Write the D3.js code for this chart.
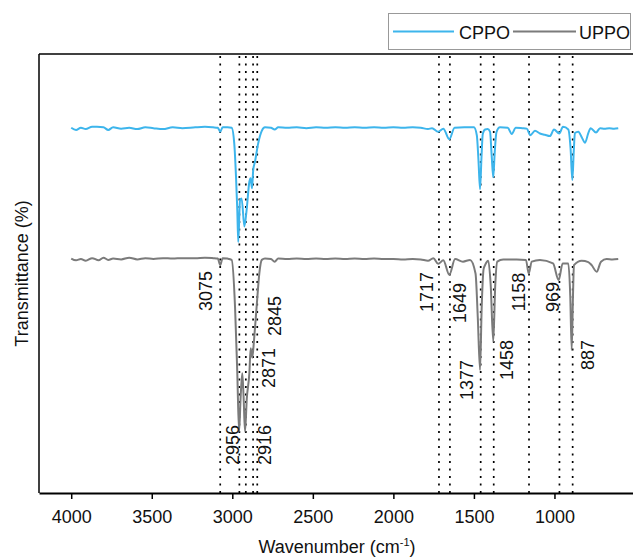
<!DOCTYPE html>
<html>
<head>
<meta charset="utf-8">
<script src="https://cdn.jsdelivr.net/npm/d3@7"></script>
<style>
  body { margin: 0; background: #fff; }
  svg { display: block; font-family: "Liberation Sans", Arial, sans-serif; }
</style>
</head>
<body>
<script>
// FTIR spectra, wavenumber (cm-1) vs transmittance (arbitrary %, stacked)

const cppo = [
  [4000, 83.2], [3970, 82.7], [3940, 83.2], [3910, 82.9], [3870, 83.4], [3840, 83.4], [3800, 83.3],
  [3770, 82.7], [3740, 83.3], [3690, 83.0], [3640, 83.2], [3590, 82.9], [3540, 83.3], [3490, 83.1],
  [3430, 82.9], [3370, 83.3], [3310, 83.1], [3230, 83.3], [3170, 83.4], [3120, 83.3], [3090, 83.2],
  [3075, 82.3], [3060, 83.3], [3030, 83.3], [3004, 83.2], [2988, 79.7], [2977, 72.1], [2969, 64.5],
  [2963, 57.2], [2952, 66.7], [2942, 67.1], [2925, 60.7], [2911, 64.5], [2894, 70.9], [2886, 71.7],
  [2878, 69.4], [2870, 73.6], [2859, 75.5], [2839, 79.7], [2817, 82.5], [2797, 83.3], [2760, 83.2],
  [2737, 82.8], [2715, 83.3], [2660, 83.2], [2600, 83.3], [2540, 83.1], [2480, 83.3], [2420, 83.2],
  [2360, 83.3], [2300, 83.2], [2240, 83.3], [2180, 83.2], [2120, 83.3], [2060, 83.2], [2000, 83.3],
  [1940, 83.2], [1880, 83.3], [1830, 83.2], [1785, 82.9], [1760, 83.1], [1722, 82.3], [1690, 83.0],
  [1653, 80.6], [1620, 83.2], [1560, 83.3], [1500, 83.3], [1482, 81.5], [1472, 76.0], [1462, 69.2],
  [1453, 76.5], [1445, 81.8], [1430, 82.8], [1415, 82.9], [1400, 82.3], [1390, 77.0], [1380, 71.9],
  [1371, 77.5], [1360, 82.2], [1338, 83.3], [1290, 83.2], [1265, 81.8], [1240, 83.2], [1200, 83.1],
  [1172, 83.0], [1150, 81.5], [1121, 82.5], [1090, 81.9], [1060, 81.6], [1028, 81.3], [1003, 82.8],
  [970, 81.9], [947, 83.4], [914, 82.8], [900, 78.5], [889, 71.3], [880, 78.0], [873, 82.0],
  [852, 82.3], [830, 81.0], [810, 79.8], [790, 82.0], [775, 83.1], [742, 82.1], [717, 83.1],
  [690, 83.0], [660, 83.1], [630, 83.0], [604, 83.1]
];

const uppo = [
  [4000, 53.4], [3970, 53.0], [3940, 53.3], [3910, 52.9], [3870, 53.5], [3830, 53.0], [3800, 53.6],
  [3770, 53.1], [3740, 53.4], [3690, 53.2], [3640, 53.6], [3590, 53.2], [3540, 53.5], [3490, 53.3],
  [3430, 53.5], [3370, 53.4], [3310, 53.5], [3230, 53.5], [3170, 53.6], [3120, 53.5], [3090, 53.4],
  [3075, 51.9], [3060, 53.5], [3030, 53.4], [3004, 53.1], [2983, 42.4], [2969, 27.3], [2958, 14.0],
  [2948, 22.0], [2938, 27.3], [2930, 22.0], [2921, 14.0], [2910, 21.5], [2894, 27.3], [2886, 33.0],
  [2876, 30.8], [2865, 34.9], [2849, 42.4], [2832, 50.1], [2817, 53.1], [2797, 53.4], [2760, 53.3],
  [2737, 52.7], [2715, 53.4], [2660, 53.3], [2600, 53.4], [2540, 53.3], [2480, 53.4], [2420, 53.3],
  [2360, 53.4], [2300, 53.3], [2240, 53.4], [2180, 53.3], [2120, 53.4], [2060, 53.3], [2000, 53.3],
  [1940, 53.2], [1880, 53.3], [1830, 53.2], [1785, 52.9], [1752, 53.5], [1722, 52.2], [1690, 53.0],
  [1653, 49.7], [1617, 53.3], [1568, 52.7], [1524, 53.1], [1490, 50.0], [1476, 40.0], [1462, 28.0],
  [1452, 42.0], [1440, 51.0], [1431, 51.9], [1411, 52.9], [1396, 47.5], [1380, 34.5], [1368, 47.0],
  [1355, 52.7], [1318, 53.2], [1234, 53.2], [1177, 53.1], [1160, 50.0], [1141, 52.7], [1090, 53.1],
  [1009, 52.3], [974, 48.5], [949, 52.3], [914, 52.3], [902, 45.0], [893, 32.6], [885, 45.0],
  [879, 51.9], [831, 52.9], [790, 52.6], [769, 51.9], [738, 50.4], [711, 52.7], [676, 53.3],
  [640, 53.2], [604, 53.3]
];

// marked bands (dotted lines)
const peaks = [3075, 2956, 2916, 2871, 2845, 1717, 1649, 1458, 1377, 1158, 969, 887];
// label text for each band, as printed on the figure
const peakLabels = ["3075", "2956", "2916", "2871", "2845", "1717", "1649", "1377", "1458", "1158", "969", "887"];

const xTicks = [4000, 3500, 3000, 2500, 2000, 1500, 1000];
const seriesNames = ["CPPO", "UPPO"];

// layout of the rotated labels: dx from the dotted line, center y in px
const labelLayout = [
  { dx: -15, cy: 291 }, { dx: -7, cy: 445 }, { dx: 19, cy: 445 }, { dx: 15, cy: 368 },
  { dx: 17, cy: 316 }, { dx: -12, cy: 292 }, { dx: 10, cy: 303 }, { dx: -14, cy: 380 },
  { dx: 13, cy: 360 }, { dx: -11, cy: 292 }, { dx: -7, cy: 297 }, { dx: 15, cy: 355 }
];

const width = 633;
const height = 558;
const colors = ["#3db5ec", "#7b7b7b"];

const plotLeft = 39, plotTop = 54, plotBottom = 493;

const svg = d3.select("body")
  .append("svg")
  .attr("width", width)
  .attr("height", height);

const x = d3.scaleLinear().domain([4200, 500]).range([plotLeft, 635]);
const y = d3.scaleLinear().domain([0, 100]).range([plotBottom, plotTop]);

// dotted reference lines
svg.append("g")
  .selectAll("line")
  .data(peaks)
  .enter()
  .append("line")
  .attr("x1", d => x(d))
  .attr("x2", d => x(d))
  .attr("y1", plotTop + 2)
  .attr("y2", plotBottom)
  .attr("stroke", "#000")
  .attr("stroke-width", 1.7)
  .attr("stroke-dasharray", "2,5.5");

// spectra
const line = d3.line()
  .x(d => x(d[0]))
  .y(d => y(d[1]))
  .curve(d3.curveMonotoneX);

[cppo, uppo].forEach((s, i) => {
  svg.append("path")
    .datum(s)
    .attr("d", line)
    .attr("fill", "none")
    .attr("stroke", colors[i])
    .attr("stroke-width", 2)
    .attr("stroke-linejoin", "round");
});

// peak labels, rotated
svg.append("g")
  .selectAll("text")
  .data(peaks)
  .enter()
  .append("text")
  .attr("transform", (d, i) => "translate(" + (x(d) + labelLayout[i].dx + 6.5) + "," + labelLayout[i].cy + ") rotate(-90)")
  .attr("text-anchor", "middle")
  .attr("font-size", 18)
  .attr("fill", "#111")
  .text((d, i) => peakLabels[i]);

// frame: top and left
svg.append("line")
  .attr("x1", plotLeft).attr("x2", width)
  .attr("y1", plotTop).attr("y2", plotTop)
  .attr("stroke", "#000").attr("stroke-width", 1.5);
svg.append("line")
  .attr("x1", plotLeft).attr("x2", plotLeft)
  .attr("y1", plotTop).attr("y2", plotBottom)
  .attr("stroke", "#000").attr("stroke-width", 1.5);

// bottom axis
const xAxis = svg.append("g")
  .attr("transform", "translate(0," + plotBottom + ")")
  .call(d3.axisBottom(x).tickValues(xTicks).tickSize(6).tickSizeOuter(0).tickPadding(11).tickFormat(d3.format("d")));
xAxis.select(".domain").attr("stroke-width", 2);
xAxis.selectAll(".tick line").attr("stroke-width", 1.5);
xAxis.selectAll("text").attr("font-size", 18).attr("fill", "#111").attr("font-family", null);

// axis titles
const xTitle = svg.append("text")
  .attr("x", 337)
  .attr("y", 553)
  .attr("text-anchor", "middle")
  .attr("font-size", 18)
  .attr("fill", "#111");
xTitle.append("tspan").text("Wavenumber (cm");
xTitle.append("tspan").attr("font-size", 11).attr("dy", -7).text("-1");
xTitle.append("tspan").attr("dy", 7).text(")");

svg.append("text")
  .attr("transform", "translate(28," + ((plotTop + plotBottom) / 2) + ") rotate(-90)")
  .attr("text-anchor", "middle")
  .attr("font-size", 18)
  .attr("fill", "#111")
  .text("Transmittance (%)");

// legend
const legend = svg.append("g");
legend.append("rect")
  .attr("x", 388.5).attr("y", 13.5)
  .attr("width", 242).attr("height", 36)
  .attr("fill", "#fff")
  .attr("stroke", "#999");

const legendItems = [
  { x1: 393, x2: 454, tx: 459 },
  { x1: 513, x2: 576, tx: 579 }
];
seriesNames.forEach((name, i) => {
  const it = legendItems[i];
  legend.append("line")
    .attr("x1", it.x1).attr("x2", it.x2)
    .attr("y1", 31.5).attr("y2", 31.5)
    .attr("stroke", colors[i])
    .attr("stroke-width", 2);
  legend.append("text")
    .attr("x", it.tx)
    .attr("y", 39)
    .attr("font-size", 18)
    .attr("fill", "#111")
    .text(name);
});
</script>
</body>
</html>
